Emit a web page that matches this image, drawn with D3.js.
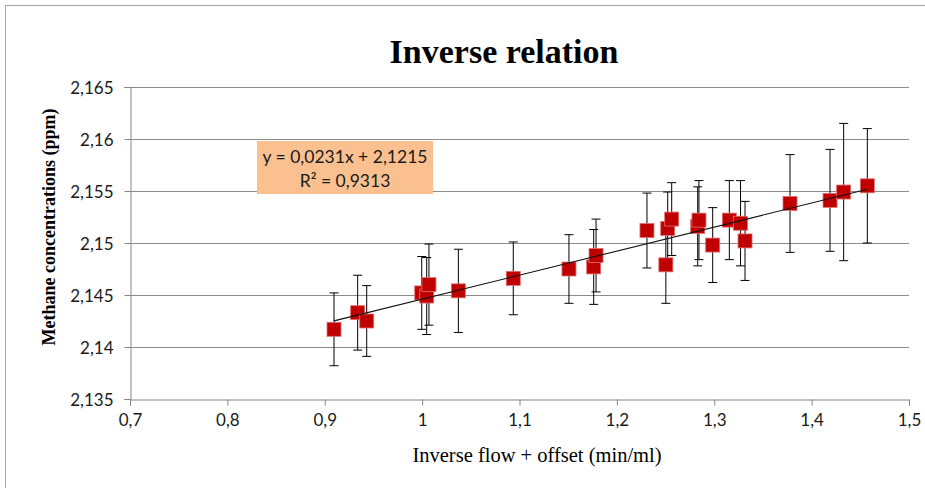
<!DOCTYPE html>
<html>
<head>
<meta charset="utf-8">
<script src="https://cdn.jsdelivr.net/npm/d3@7"></script>
<style>
  html, body { margin: 0; padding: 0; background: #fff; }
  svg { display: block; }
</style>
</head>
<body>
<svg id="chart" width="925" height="488"></svg>
<script>
// ---- data ----
const xValues = [0.9095, 0.9338, 0.9431, 0.9996, 1.0047, 1.0070, 1.0372, 1.0936, 1.1508, 1.1762, 1.1786,
  1.2309, 1.2503, 1.2522, 1.2563, 1.2830, 1.2843, 1.2984, 1.3155, 1.3270, 1.3316, 1.3778, 1.4189, 1.4329, 1.4572];
const yValues = [2.1417, 2.1433, 2.1425, 2.1452, 2.1449, 2.1460, 2.1454, 2.1466, 2.1475, 2.1477, 2.1488,
  2.1512, 2.1479, 2.1514, 2.1523, 2.1516, 2.1522, 2.1498, 2.1522, 2.1519, 2.1502, 2.1538, 2.1541, 2.1549, 2.1555];
const yErrors = [0.0035, 0.0036, 0.0034, 0.0035, 0.0037, 0.0039, 0.0040, 0.0035, 0.0033, 0.0036, 0.0035,
  0.0036, 0.0037, 0.0035, 0.0035, 0.0038, 0.0038, 0.0036, 0.0038, 0.0041, 0.0038, 0.0047, 0.0049, 0.0066, 0.0055];
const trendSlope = 0.0231;
const trendIntercept = 2.1215;
const xTicks = [0.7, 0.8, 0.9, 1.0, 1.1, 1.2, 1.3, 1.4, 1.5];
const yTicks = [2.135, 2.14, 2.145, 2.15, 2.155, 2.16, 2.165];
const titleText = "Inverse relation";
const xTitle = "Inverse flow + offset (min/ml)";
const yTitle = "Methane concentrations (ppm)";
const eqLine1 = "y = 0,0231x + 2,1215";
const eqLine2 = "R\u00B2 = 0,9313";

// ---- layout ----
const svg = d3.select("#chart");
const L = 130, R = 909, T = 87, B = 399;
const x = d3.scaleLinear().domain([0.7, 1.5]).range([L, R]);
const y = d3.scaleLinear().domain([2.135, 2.165]).range([B, T]);
const fmt = v => String(+v.toFixed(3)).replace(".", ",");
const sans = "Lato, 'Open Sans', sans-serif";
const serif = "'Liberation Serif', 'Times New Roman', serif";

// chart border
svg.append("rect").attr("x", 5.5).attr("y", 5.5).attr("width", 940).attr("height", 500)
  .attr("fill", "#fff").attr("stroke", "#a6a6a6").attr("stroke-width", 1);

// gridlines
svg.append("g").selectAll("line").data(yTicks.filter(t => t > 2.135)).join("line")
  .attr("x1", L).attr("x2", R)
  .attr("y1", d => Math.round(y(d)) + 0.5).attr("y2", d => Math.round(y(d)) + 0.5)
  .attr("stroke", "#8c8c8c").attr("stroke-width", 1);

// axes
const xAxis = d3.axisBottom(x).tickValues(xTicks).tickFormat(fmt).tickSize(6).tickPadding(8);
const gx = svg.append("g").attr("transform", `translate(0,${B + 0.5})`).call(xAxis);
const yAxis = d3.axisLeft(y).tickValues(yTicks).tickFormat(fmt).tickSize(6).tickPadding(11);
const gy = svg.append("g").attr("transform", `translate(${L + 0.5},0)`).call(yAxis);
[gx, gy].forEach(g => {
  g.select(".domain").attr("stroke", "#868686");
  g.selectAll(".tick line").attr("stroke", "#868686");
  g.selectAll(".tick text").attr("fill", "#1a1a1a").style("font-family", sans).style("font-size", "17px");
});
gy.selectAll(".tick text").attr("dy", "0.36em");
gx.selectAll(".tick text").attr("dy", "0.75em");

// error bars
const eb = svg.append("g").attr("stroke", "#000").attr("stroke-width", 1);
const idx = d3.range(xValues.length);
eb.selectAll("line.v").data(idx).join("line").attr("class", "v")
  .attr("x1", i => x(xValues[i])).attr("x2", i => x(xValues[i]))
  .attr("y1", i => y(yValues[i] + yErrors[i])).attr("y2", i => y(yValues[i] - yErrors[i]));
eb.selectAll("line.t").data(idx).join("line").attr("class", "t")
  .attr("x1", i => x(xValues[i]) - 4.5).attr("x2", i => x(xValues[i]) + 4.5)
  .attr("y1", i => y(yValues[i] + yErrors[i])).attr("y2", i => y(yValues[i] + yErrors[i]));
eb.selectAll("line.b").data(idx).join("line").attr("class", "b")
  .attr("x1", i => x(xValues[i]) - 4.5).attr("x2", i => x(xValues[i]) + 4.5)
  .attr("y1", i => y(yValues[i] - yErrors[i])).attr("y2", i => y(yValues[i] - yErrors[i]));

// markers
const ms = 14;
svg.append("g").selectAll("rect").data(idx).join("rect")
  .attr("x", i => x(xValues[i]) - ms / 2).attr("y", i => y(yValues[i]) - ms / 2)
  .attr("width", ms).attr("height", ms)
  .attr("fill", "#c00000").attr("stroke", "#e07070").attr("stroke-width", 0.8);

// trend line
const xMin = d3.min(xValues), xMax = d3.max(xValues);
svg.append("line")
  .attr("x1", x(xMin)).attr("y1", y(trendSlope * xMin + trendIntercept))
  .attr("x2", x(xMax)).attr("y2", y(trendSlope * xMax + trendIntercept))
  .attr("stroke", "#111").attr("stroke-width", 1.1);

// equation box
const eq = svg.append("g");
eq.append("rect").attr("x", 257).attr("y", 141).attr("width", 176).attr("height", 53).attr("fill", "#fac090");
eq.append("text").attr("x", 345).attr("y", 163).attr("text-anchor", "middle")
  .style("font-family", sans).style("font-size", "17.5px").attr("fill", "#1a1a1a").text(eqLine1);
eq.append("text").attr("x", 345).attr("y", 187).attr("text-anchor", "middle")
  .style("font-family", sans).style("font-size", "17.5px").attr("fill", "#1a1a1a").text(eqLine2);

// titles
svg.append("text").attr("x", 504).attr("y", 63).attr("text-anchor", "middle")
  .style("font-family", serif).style("font-weight", "bold").style("font-size", "34px").attr("fill", "#000")
  .text(titleText);
svg.append("text").attr("x", 537).attr("y", 462).attr("text-anchor", "middle")
  .style("font-family", serif).style("font-size", "20.5px").attr("fill", "#000").text(xTitle);
svg.append("text").attr("transform", "translate(55,227) rotate(-90)").attr("text-anchor", "middle")
  .style("font-family", serif).style("font-weight", "bold").style("font-size", "18px").attr("fill", "#000")
  .text(yTitle);
</script>
</body>
</html>
